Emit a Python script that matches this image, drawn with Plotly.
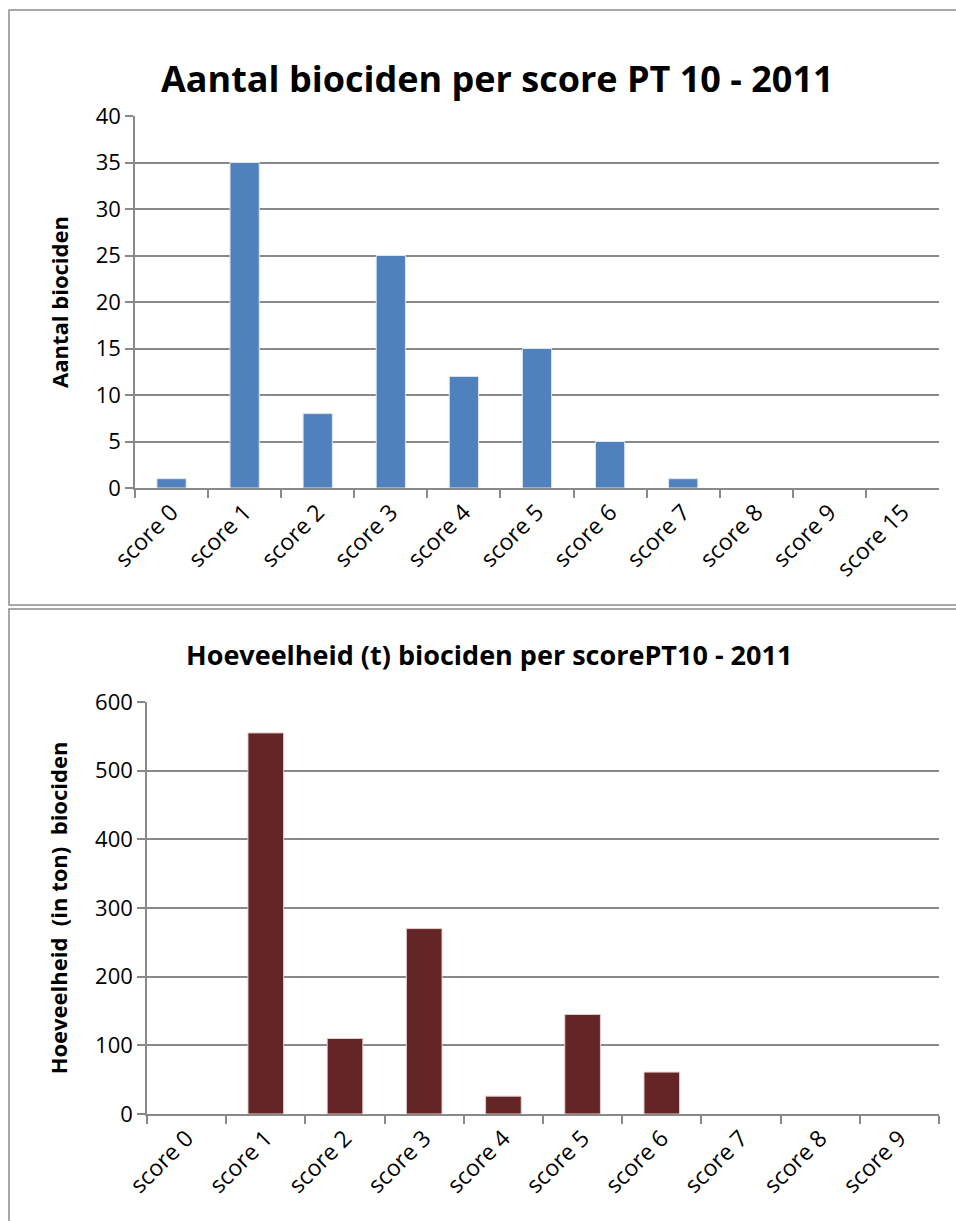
import plotly.graph_objects as go

# data
scores_count = ["score 0", "score 1", "score 2", "score 3", "score 4", "score 5",
                "score 6", "score 7", "score 8", "score 9", "score 15"]
n_biociden = [1, 35, 8, 25, 12, 15, 5, 1, 0, 0, 0]

scores_tonnage = ["score 0", "score 1", "score 2", "score 3", "score 4", "score 5",
                  "score 6", "score 7", "score 8", "score 9"]
ton_biociden = [0, 555, 110, 270, 26, 145, 61, 0, 0, 0]

W, H = 956, 1221
FONT = "Open Sans"
GRID = "#898989"


def px(x):
    return x / W


def py(y):
    return 1 - y / H


def outline(values):
    # no outline on empty bars, otherwise a faint line shows on the axis
    return [1 if v else 0 for v in values]


fig = go.Figure()

fig.add_trace(go.Bar(
    x=scores_count, y=n_biociden, width=0.4,
    marker=dict(color="#4F81BD", line=dict(color="#DCE6F2", width=outline(n_biociden))),
    xaxis="x", yaxis="y", showlegend=False,
))
fig.add_trace(go.Bar(
    x=scores_tonnage, y=ton_biociden, width=0.45,
    marker=dict(color="#632526", line=dict(color="#E6D0D0", width=outline(ton_biociden))),
    xaxis="x2", yaxis="y2", showlegend=False,
))

xcommon = dict(
    type="category", showline=True, linecolor=GRID, linewidth=1.5,
    ticks="outside", tickson="boundaries", ticklen=8, tickwidth=1.5, tickcolor=GRID,
    tickangle=-45, tickfont=dict(family=FONT, size=23, color="black"),
    showgrid=False, zeroline=False, fixedrange=True,
)
ycommon = dict(
    showline=True, linecolor=GRID, linewidth=1.5,
    ticks="outside", ticklen=8, tickwidth=1.5, tickcolor=GRID,
    tickfont=dict(family=FONT, size=22, color="black"),
    showgrid=True, gridcolor=GRID, gridwidth=1.5, zeroline=False, fixedrange=True,
)

fig.update_layout(
    width=W, height=H,
    margin=dict(l=0, r=0, t=0, b=0, autoexpand=False),
    paper_bgcolor="white", plot_bgcolor="white",
    xaxis=dict(xcommon, domain=[px(135), px(939)], anchor="y"),
    yaxis=dict(ycommon, domain=[py(488), py(116)], anchor="x",
               range=[0, 40], dtick=5,
               title=dict(text="<b>Aantal biociden</b>", standoff=21,
                          font=dict(family=FONT, size=22, color="black"))),
    xaxis2=dict(xcommon, domain=[px(147), px(939)], anchor="y2"),
    yaxis2=dict(ycommon, domain=[py(1114), py(702)], anchor="x2",
                range=[0, 600], dtick=100,
                title=dict(text="<b>Hoeveelheid\u00a0 (in ton)\u00a0 biociden</b>", standoff=21,
                           font=dict(family=FONT, size=22, color="black"))),
    annotations=[
        dict(text="<b>Aantal biociden per score PT 10 - 2011</b>",
             x=px(497), y=py(52), xref="paper", yref="paper", showarrow=False,
             font=dict(family=FONT, size=36, color="black")),
        dict(text="<b>Hoeveelheid (t) biociden per scorePT10 - 2011</b>",
             x=px(489), y=py(654), xref="paper", yref="paper", showarrow=False,
             font=dict(family=FONT, size=27, color="black")),
    ],
    shapes=[
        dict(type="rect", xref="paper", yref="paper",
             x0=px(9), x1=px(962), y0=py(10), y1=py(605),
             line=dict(color="#8C8C8C", width=1.5)),
        dict(type="rect", xref="paper", yref="paper",
             x0=px(9), x1=px(962), y0=py(609), y1=py(1228),
             line=dict(color="#8C8C8C", width=1.5)),
    ],
)

# the page's default body margin would push the figure 8px right and down
fig.write_html("out.html", config={"displayModeBar": False},
               post_script="document.body.style.margin='0';")
